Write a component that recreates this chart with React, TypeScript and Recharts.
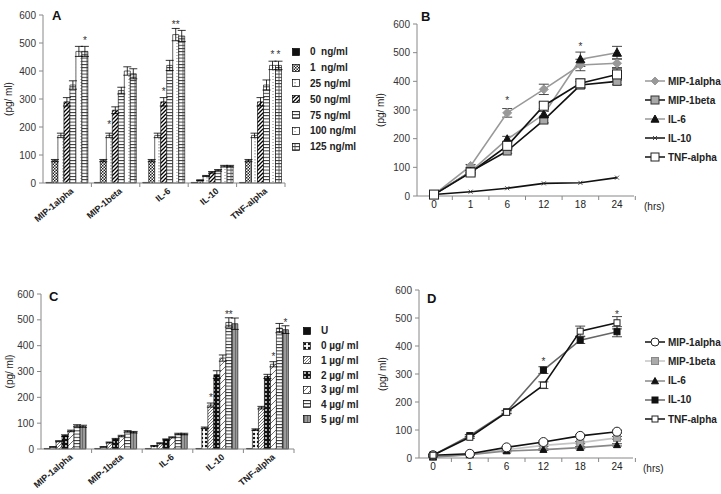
import React from 'react';
import { BarChart, Bar, LineChart, Line, XAxis, YAxis, ErrorBar, LabelList } from 'recharts';

const FONT = '"Liberation Sans", Arial, Helvetica, sans-serif';

// shared categories / ticks
const cytokines = ['MIP-1alpha', 'MIP-1beta', 'IL-6', 'IL-10', 'TNF-alpha'];
const hours = ['0', '1', '6', '12', '18', '24'];
const pgTicks = [0, 100, 200, 300, 400, 500, 600];

// ---- A: dose response, ng/ml (values per dose across cytokines)
const doseA = ['0  ng/ml', '1  ng/ml', '25 ng/ml', '50 ng/ml', '75 ng/ml', '100 ng/ml', '125 ng/ml'];
const aNg0 = [2, 2, 2, 2, 2];
const aNg1 = [80, 80, 80, 10, 80];
const aNg25 = [170, 170, 170, 25, 170];
const aNg50 = [290, 260, 290, 38, 290];
const aNg75 = [350, 330, 420, 45, 350];
const aNg100 = [470, 400, 530, 60, 420];
const aNg125 = [470, 390, 525, 60, 420];
const aErr0 = [0, 0, 0, 0, 0];
const aErr1 = [4, 4, 4, 1, 4];
const aErr25 = [8, 8, 8, 2, 8];
const aErr50 = [15, 12, 15, 3, 15];
const aErr75 = [15, 12, 18, 3, 18];
const aErr100 = [18, 15, 22, 3, 15];
const aErr125 = [18, 18, 20, 3, 15];
const aSigNone = ['', '', '', '', ''];
const aSig25 = ['', '*', '', '', ''];
const aSig50 = ['', '', '*', '', ''];
const aSig100 = ['', '', '**', '', '*'];
const aSig125 = ['*', '', '', '', '*'];

// ---- C: dose response, µg/ml
const doseC = ['U', '0 µg/ ml', '1 µg/ ml', '2 µg/ ml', '3 µg/ ml', '4 µg/ ml', '5 µg/ ml'];
const cU = [2, 2, 2, 2, 2];
const cUg0 = [8, 8, 12, 82, 75];
const cUg1 = [30, 25, 22, 170, 160];
const cUg2 = [52, 38, 37, 288, 281];
const cUg3 = [70, 50, 45, 352, 328];
const cUg4 = [90, 68, 58, 490, 468];
const cUg5 = [88, 65, 58, 485, 462];
const cErrU = [0, 0, 0, 0, 0];
const cErr0 = [1, 1, 1, 3, 3];
const cErr1 = [2, 2, 2, 8, 5];
const cErr2 = [3, 3, 2, 15, 8];
const cErr3 = [3, 3, 2, 12, 10];
const cErr4 = [4, 3, 3, 18, 18];
const cErr5 = [4, 3, 3, 22, 15];
const cSigNone = ['', '', '', '', ''];
const cSig1 = ['', '', '', '*', ''];
const cSig3 = ['', '', '', '', '*'];
const cSig4 = ['', '', '', '**', ''];
const cSig5 = ['', '', '', '', '*'];

// ---- B: time course
const bMip1a = [5, 105, 290, 372, 457, 463];
const bMip1b = [5, 85, 157, 265, 387, 400];
const bIl6 = [5, 85, 198, 285, 477, 500];
const bIl10 = [5, 15, 27, 44, 46, 64];
const bTnf = [5, 82, 175, 315, 393, 424];
const bMip1aErr = [3, 5, 15, 18, 20, 15];
const bMip1bErr = [2, 4, 8, 10, 12, 12];
const bIl6Err = [2, 4, 10, 10, 25, 22];
const bIl10Err = [0, 0, 0, 0, 0, 0];
const bTnfErr = [3, 5, 10, 10, 15, 20];
const bMip1aSig = ['', '', '*', '', '', ''];
const bIl6Sig = ['', '', '', '', '*', ''];
const noSig6 = ['', '', '', '', '', ''];

// ---- D: time course
const dMip1a = [10, 15, 38, 57, 79, 94];
const dMip1b = [5, 12, 30, 45, 55, 72];
const dIl6 = [3, 12, 25, 30, 37, 47];
const dIl10 = [10, 80, 165, 314, 421, 451];
const dTnf = [10, 74, 163, 260, 453, 483];
const dMip1aErr = [2, 2, 3, 4, 4, 5];
const dMip1bErr = [1, 2, 3, 4, 4, 5];
const dIl6Err = [1, 2, 3, 3, 4, 4];
const dIl10Err = [2, 4, 5, 12, 12, 18];
const dTnfErr = [2, 4, 5, 12, 18, 22];
const dIl10Sig = ['', '', '', '*', '', ''];
const dTnfSig = ['', '', '', '', '', '*'];

const patA = ['#111', 'url(#pA1)', 'url(#pA25)', 'url(#pA50)', 'url(#pA75)', 'url(#pA100)', 'url(#pA125)'];
const patC = ['#111', 'url(#pC0)', 'url(#pC1)', 'url(#pC2)', 'url(#pC3)', 'url(#pC4)', 'url(#pC5)'];

const barRows = (vals: number[][], errs: number[][], sigs: string[][]) =>
  cytokines.map((name, c) => {
    const row: any = { name };
    vals.forEach((v, i) => {
      row[`v${i}`] = v[c];
      row[`e${i}`] = errs[i][c];
      row[`s${i}`] = sigs[i][c];
    });
    return row;
  });

const rowsA = barRows(
  [aNg0, aNg1, aNg25, aNg50, aNg75, aNg100, aNg125],
  [aErr0, aErr1, aErr25, aErr50, aErr75, aErr100, aErr125],
  [aSigNone, aSigNone, aSig25, aSig50, aSigNone, aSig100, aSig125]
);
const rowsC = barRows(
  [cU, cUg0, cUg1, cUg2, cUg3, cUg4, cUg5],
  [cErrU, cErr0, cErr1, cErr2, cErr3, cErr4, cErr5],
  [cSigNone, cSigNone, cSig1, cSigNone, cSig3, cSig4, cSig5]
);

type LineSeries = {
  key: string; name: string; values: number[]; err: number[]; sig: string[];
  line: string; shape: string; size: number; fill: string; stroke: string;
};

const seriesB: LineSeries[] = [
  { key: 'il10', name: 'IL-10', values: bIl10, err: bIl10Err, sig: noSig6, line: '#111', shape: 'x', size: 4, fill: 'none', stroke: '#333' },
  { key: 'mip1a', name: 'MIP-1alpha', values: bMip1a, err: bMip1aErr, sig: bMip1aSig, line: '#999', shape: 'diamond', size: 9, fill: '#999', stroke: '#999' },
  { key: 'mip1b', name: 'MIP-1beta', values: bMip1b, err: bMip1bErr, sig: noSig6, line: '#111', shape: 'square', size: 8, fill: '#a8a8a8', stroke: '#333' },
  { key: 'il6', name: 'IL-6', values: bIl6, err: bIl6Err, sig: bIl6Sig, line: '#999', shape: 'triangle', size: 9, fill: '#111', stroke: '#111' },
  { key: 'tnf', name: 'TNF-alpha', values: bTnf, err: bTnfErr, sig: noSig6, line: '#111', shape: 'square', size: 9, fill: '#fff', stroke: '#222' },
];
const legendB = ['mip1a', 'mip1b', 'il6', 'il10', 'tnf'];

const seriesD: LineSeries[] = [
  { key: 'mip1b', name: 'MIP-1beta', values: dMip1b, err: dMip1bErr, sig: noSig6, line: '#c4c4c4', shape: 'square', size: 7, fill: '#aaa', stroke: '#888' },
  { key: 'il6', name: 'IL-6', values: dIl6, err: dIl6Err, sig: noSig6, line: '#888', shape: 'triangle', size: 7, fill: '#111', stroke: '#111' },
  { key: 'mip1a', name: 'MIP-1alpha', values: dMip1a, err: dMip1aErr, sig: noSig6, line: '#111', shape: 'circle', size: 9, fill: '#fff', stroke: '#222' },
  { key: 'il10', name: 'IL-10', values: dIl10, err: dIl10Err, sig: dIl10Sig, line: '#666', shape: 'square', size: 6, fill: '#111', stroke: '#111' },
  { key: 'tnf', name: 'TNF-alpha', values: dTnf, err: dTnfErr, sig: dTnfSig, line: '#111', shape: 'square', size: 6, fill: '#fff', stroke: '#222' },
];
const legendD = ['mip1a', 'mip1b', 'il6', 'il10', 'tnf'];

const lineRows = (series: LineSeries[]) =>
  hours.map((h, i) => {
    const row: any = { h };
    series.forEach((s) => {
      row[s.key] = s.values[i];
      row[`${s.key}Err`] = s.err[i];
      row[`${s.key}Sig`] = s.sig[i];
    });
    return row;
  });
const rowsB = lineRows(seriesB);
const rowsD = lineRows(seriesD);

function Mark({ shape, cx, cy, size, fill, stroke }: any) {
  if (cx == null || cy == null) return null;
  const h = size / 2;
  if (shape === 'diamond')
    return <polygon points={`${cx},${cy - h} ${cx + h},${cy} ${cx},${cy + h} ${cx - h},${cy}`} fill={fill} stroke={stroke} strokeWidth={1} />;
  if (shape === 'triangle')
    return <polygon points={`${cx},${cy - h} ${cx + h},${cy + h * 0.8} ${cx - h},${cy + h * 0.8}`} fill={fill} stroke={stroke} strokeWidth={1} />;
  if (shape === 'circle') return <circle cx={cx} cy={cy} r={h} fill={fill} stroke={stroke} strokeWidth={1} />;
  if (shape === 'x')
    return <path d={`M${cx - h},${cy - h}L${cx + h},${cy + h}M${cx - h},${cy + h}L${cx + h},${cy - h}`} stroke={stroke} strokeWidth={0.9} fill="none" />;
  return <rect x={cx - h} y={cy - h} width={size} height={size} fill={fill} stroke={stroke} strokeWidth={1} />;
}

function Patterns() {
  return (
    <svg width={0} height={0} style={{ position: 'absolute' }}>
      <defs>
        <pattern id="pA1" width={3} height={3} patternUnits="userSpaceOnUse">
          <rect width={3} height={3} fill="#fff" />
          <rect width={1.5} height={1.5} fill="#222" />
          <rect x={1.5} y={1.5} width={1.5} height={1.5} fill="#222" />
        </pattern>
        <pattern id="pA25" width={6} height={3} patternUnits="userSpaceOnUse">
          <rect width={6} height={3} fill="#fff" />
          <rect x={2.5} y={0} width={1} height={1.5} fill="#888" />
        </pattern>
        <pattern id="pA50" width={4} height={4} patternUnits="userSpaceOnUse">
          <rect width={4} height={4} fill="#fff" />
          <path d="M-1,1 l2,-2 M0,4 l4,-4 M3,5 l2,-2" stroke="#000" strokeWidth={1.3} />
        </pattern>
        <pattern id="pA75" width={6} height={3.2} patternUnits="userSpaceOnUse">
          <rect width={6} height={3.2} fill="#fff" />
          <line x1={0} x2={6} y1={0.5} y2={0.5} stroke="#222" strokeWidth={0.9} />
        </pattern>
        <pattern id="pA100" width={6} height={3} patternUnits="userSpaceOnUse">
          <rect width={6} height={3} fill="#fff" />
          <circle cx={3} cy={1.5} r={0.5} fill="#555" />
        </pattern>
        <pattern id="pA125" width={6} height={3.2} patternUnits="userSpaceOnUse">
          <rect width={6} height={3.2} fill="#fff" />
          <line x1={0} x2={6} y1={0.5} y2={0.5} stroke="#222" strokeWidth={0.9} />
          <line x1={3} x2={3} y1={0} y2={3.2} stroke="#444" strokeWidth={0.7} />
        </pattern>
        <pattern id="pC0" width={4} height={4} patternUnits="userSpaceOnUse">
          <rect width={4} height={4} fill="#fff" />
          <circle cx={2} cy={2} r={1.2} fill="#111" />
        </pattern>
        <pattern id="pC1" width={3} height={3} patternUnits="userSpaceOnUse">
          <rect width={3} height={3} fill="#fff" />
          <path d="M-1,1 l2,-2 M0,3 l3,-3 M2,4 l2,-2" stroke="#555" strokeWidth={0.8} />
        </pattern>
        <pattern id="pC2" width={4} height={4} patternUnits="userSpaceOnUse">
          <rect width={4} height={4} fill="#111" />
          <circle cx={2} cy={2} r={0.9} fill="#fff" />
        </pattern>
        <pattern id="pC3" width={6} height={6} patternUnits="userSpaceOnUse">
          <rect width={6} height={6} fill="#fff" />
          <path d="M0,6 l6,-6" stroke="#333" strokeWidth={0.7} />
        </pattern>
        <pattern id="pC4" width={6} height={3.2} patternUnits="userSpaceOnUse">
          <rect width={6} height={3.2} fill="#fff" />
          <line x1={0} x2={6} y1={0.5} y2={0.5} stroke="#222" strokeWidth={0.9} />
        </pattern>
        <pattern id="pC5" width={3} height={3} patternUnits="userSpaceOnUse">
          <rect width={3} height={3} fill="#9a9a9a" />
          <line x1={1.5} x2={1.5} y1={0} y2={3} stroke="#555" strokeWidth={0.7} />
        </pattern>
      </defs>
    </svg>
  );
}

const CatTick = ({ x, y, payload, bw }: any) => (
  <g>
    <line x1={x + bw / 2} x2={x + bw / 2} y1={y - 6} y2={y - 2} stroke="#888" />
    <text
      transform={`translate(${x + 7},${y + 3}) rotate(-40)`}
      textAnchor="end"
      fontSize={9}
      fontWeight="bold"
      fill="#222"
      fontFamily={FONT}
    >
      {payload.value}
    </text>
  </g>
);

const HourTick = ({ x, y, payload, half }: any) => (
  <g>
    <line x1={x + half} x2={x + half} y1={y - 6} y2={y - 2} stroke="#888" />
    <text x={x} y={y + 6} textAnchor="middle" fontSize={10} fill="#222" fontFamily={FONT}>
      {payload.value}
    </text>
  </g>
);

const sigBar = (dy: number) => (p: any) =>
  p.value ? (
    <text x={p.x + p.width / 2} y={p.y - dy} textAnchor="middle" fontSize={10} fill="#333" fontFamily={FONT}>
      {p.value}
    </text>
  ) : null;

const sigPoint = (dy: number) => (p: any) =>
  p.value ? (
    <text x={p.x} y={p.y - dy} textAnchor="middle" fontSize={10} fill="#333" fontFamily={FONT}>
      {p.value}
    </text>
  ) : null;

const yAxisProps = (offset: number) => ({
  width: 35,
  domain: [0, 600] as [number, number],
  ticks: pgTicks,
  interval: 0 as const,
  tickSize: 4,
  tickMargin: 3,
  axisLine: { stroke: '#888' },
  tickLine: { stroke: '#888' },
  tick: { fontSize: 10, fill: '#333', fontFamily: FONT },
  label: {
    value: '(pg/ ml)',
    angle: -90,
    position: 'insideLeft' as const,
    offset,
    style: { textAnchor: 'middle', fontSize: 10, fill: '#222', fontFamily: FONT },
  },
});

function BarLegend({ labels, fills, left, top, rowH }: any) {
  return (
    <div style={{ position: 'absolute', left, top, fontFamily: FONT, fontSize: 10, fontWeight: 'bold', color: '#222' }}>
      {labels.map((l: string, i: number) => (
        <div key={l} style={{ height: rowH, display: 'flex', alignItems: 'center', whiteSpace: 'pre' }}>
          <svg width={8} height={8} style={{ marginRight: 10 }}>
            <rect x={0.5} y={0.5} width={7} height={7} fill={fills[i]} stroke="#000" strokeWidth={0.7} />
          </svg>
          {l}
        </div>
      ))}
    </div>
  );
}

function LineLegend({ series, order, left, top, rowH }: any) {
  return (
    <div style={{ position: 'absolute', left, top, fontFamily: FONT, fontSize: 10, fontWeight: 'bold', color: '#222' }}>
      {order.map((k: string) => {
        const s = series.find((x: LineSeries) => x.key === k);
        return (
          <div key={k} style={{ height: rowH, display: 'flex', alignItems: 'center' }}>
            <svg width={20} height={10} style={{ marginRight: 3 }}>
              <line x1={0} x2={20} y1={5} y2={5} stroke={s.line} strokeWidth={1.5} />
              <Mark shape={s.shape} cx={10} cy={5} size={Math.min(s.size, 8)} fill={s.fill} stroke={s.stroke} />
            </svg>
            {s.name}
          </div>
        );
      })}
    </div>
  );
}

const panelLetter = (t: string, left: number, top: number) => (
  <div style={{ position: 'absolute', left, top, fontFamily: FONT, fontWeight: 'bold', fontSize: 13, color: '#111' }}>{t}</div>
);

function DoseChart({ rows, labels, fills, width, height, margin, bw, xh, sigDy, yOffset }: any) {
  return (
    <BarChart width={width} height={height} data={rows} margin={margin} barGap={0} barCategoryGap="6%">
      <XAxis
        dataKey="name"
        height={xh}
        interval={0}
        tickLine={false}
        tickSize={4}
        tickMargin={2}
        axisLine={{ stroke: '#888' }}
        tick={<CatTick bw={bw} />}
      />
      <YAxis {...yAxisProps(yOffset)} />
      {labels.map((l: string, i: number) => (
        <Bar key={l} dataKey={`v${i}`} fill={fills[i]} stroke="#000" strokeWidth={0.6} isAnimationActive={false}>
          <ErrorBar dataKey={`e${i}`} width={4} stroke="#000" strokeWidth={0.8} />
          <LabelList dataKey={`s${i}`} content={sigBar(sigDy)} />
        </Bar>
      ))}
    </BarChart>
  );
}

function TimeChart({ rows, series, width, height, margin, pad, half, sigDy, yOffset }: any) {
  return (
    <LineChart width={width} height={height} data={rows} margin={margin}>
      <XAxis
        dataKey="h"
        height={20}
        interval={0}
        padding={pad}
        tickLine={false}
        tickSize={4}
        tickMargin={2}
        axisLine={{ stroke: '#888' }}
        tick={<HourTick half={half} />}
        label={{ value: '(hrs)', position: 'right', offset: 10, style: { fontSize: 10, fill: '#222', fontFamily: FONT } }}
      />
      <YAxis {...yAxisProps(yOffset)} />
      {series.map((s: LineSeries) => (
        <Line
          key={s.key}
          type="linear"
          dataKey={s.key}
          stroke={s.line}
          strokeWidth={1.6}
          isAnimationActive={false}
          dot={(p: any) => (
            <Mark key={`${s.key}-${p.index}`} shape={s.shape} cx={p.cx} cy={p.cy} size={s.size} fill={s.fill} stroke={s.stroke} />
          )}
          activeDot={false}
        >
          <ErrorBar dataKey={`${s.key}Err`} direction="y" width={5} stroke="#333" strokeWidth={0.9} />
          <LabelList dataKey={`${s.key}Sig`} content={sigPoint(sigDy)} />
        </Line>
      ))}
    </LineChart>
  );
}

export default function App() {
  return (
    <div style={{ position: 'absolute', left: 0, top: 0, width: 721, height: 494, background: '#fff', overflow: 'hidden', fontFamily: FONT }}>
      <Patterns />

      <div style={{ position: 'absolute', left: 0, top: 0 }}>
        <DoseChart
          rows={rowsA} labels={doseA} fills={patA}
          width={290} height={240} margin={{ top: 15, right: 5, bottom: 7, left: 8 }}
          bw={48.4} xh={50} sigDy={7} yOffset={0}
        />
      </div>
      {panelLetter('A', 52, 8)}
      <BarLegend labels={doseA} fills={patA} left={292} top={44} rowH={15.8} />

      <div style={{ position: 'absolute', left: 360, top: 0 }}>
        <TimeChart
          rows={rowsB} series={seriesB}
          width={320} height={230} margin={{ top: 24, right: 46, bottom: 14, left: 22 }}
          pad={{ left: 17, right: 17 }} half={18.3} sigDy={9} yOffset={-2}
        />
      </div>
      {panelLetter('B', 421, 9)}
      <LineLegend series={seriesB} order={legendB} left={645} top={71.5} rowH={19} />

      <div style={{ position: 'absolute', left: 0, top: 280 }}>
        <DoseChart
          rows={rowsC} labels={doseC} fills={patC}
          width={300} height={214} margin={{ top: 14, right: 6, bottom: 0, left: 6 }}
          bw={50.6} xh={45} sigDy={4} yOffset={3}
        />
      </div>
      {panelLetter('C', 49, 289)}
      <BarLegend labels={doseC} fills={patC} left={303} top={323.6} rowH={14.7} />

      <div style={{ position: 'absolute', left: 360, top: 270 }}>
        <TimeChart
          rows={rowsD} series={seriesD}
          width={320} height={224} margin={{ top: 20, right: 47, bottom: 16, left: 24 }}
          pad={{ left: 14, right: 16 }} half={18.4} sigDy={5} yOffset={-2}
        />
      </div>
      {panelLetter('D', 427, 291)}
      <LineLegend series={seriesD} order={legendD} left={645} top={332.5} rowH={19.25} />
    </div>
  );
}
